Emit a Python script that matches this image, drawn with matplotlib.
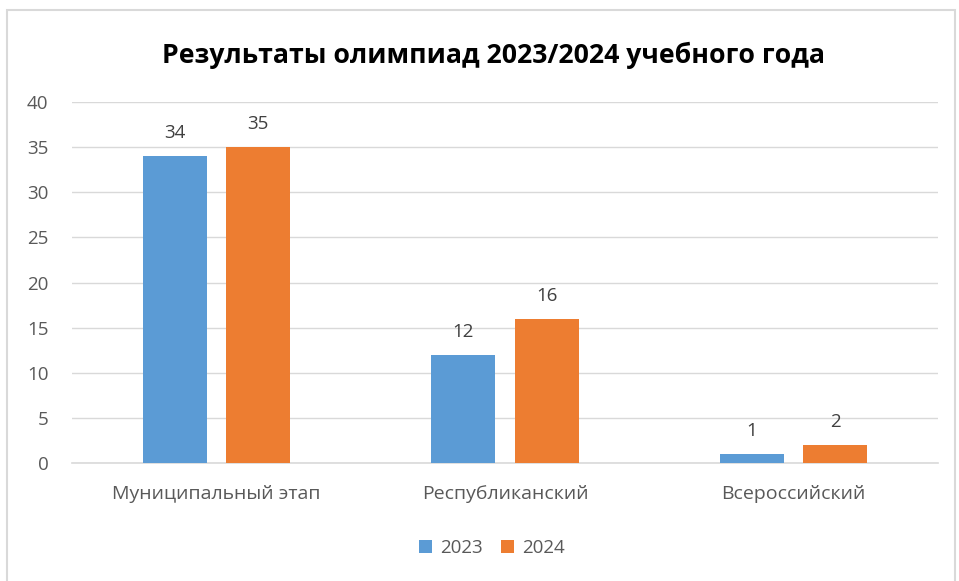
import matplotlib
matplotlib.use("Agg")
import matplotlib.pyplot as plt
from matplotlib.patches import Rectangle
import numpy as np

categories = ["Муниципальный этап", "Республиканский", "Всероссийский"]
series_names = ["2023", "2024"]
values_2023 = [34, 12, 1]
values_2024 = [35, 16, 2]
yticks = [0, 5, 10, 15, 20, 25, 30, 35, 40]
title = "Результаты олимпиад 2023/2024 учебного года"

blue = "#5B9BD5"
orange = "#ED7D31"
grey_text = "#595959"
grid_col = "#D9D9D9"

plt.rcParams['font.family'] = ['Open Sans', 'DejaVu Sans']

W, H = 959, 581
fig = plt.figure(figsize=(W / 100, H / 100), dpi=100)

# outer frame
fig.patches.append(Rectangle((7 / W, -0.1), (955 - 7) / W, 1.1 - 10 / H,
                             transform=fig.transFigure, fill=False,
                             edgecolor="#D9D9D9", linewidth=1.5))

left, right = 72 / W, 938 / W
bottom, top = 1 - 463 / H, 1 - 102 / H
ax = fig.add_axes([left, bottom, right - left, top - bottom])

x = np.arange(len(categories))
off = 0.144
bw = 0.222
b1 = ax.bar(x - off, values_2023, bw, color=blue, label=series_names[0], zorder=3)
b2 = ax.bar(x + off, values_2024, bw, color=orange, label=series_names[1], zorder=3)

for bars, vals in ((b1, values_2023), (b2, values_2024)):
    for r, v in zip(bars, vals):
        ax.annotate(str(v), (r.get_x() + r.get_width() / 2, v),
                    xytext=(0, 10), textcoords="offset points",
                    ha="center", va="bottom", fontsize=13.5, color="#404040")

ax.set_xlim(-0.5, 2.5)
ax.set_ylim(0, 40)
ax.set_yticks(yticks)
ax.set_yticklabels([str(t) for t in yticks], fontsize=13.5, color=grey_text)
ax.set_xticks(x)
ax.set_xticklabels(categories, fontsize=14, color=grey_text)
ax.tick_params(axis="both", length=0)
ax.tick_params(axis="y", pad=17)
ax.tick_params(axis="x", pad=16)
for lab in ax.get_yticklabels():
    lab.set_horizontalalignment("right")
ax.grid(axis="y", color=grid_col, linewidth=1, zorder=0)
for s in ["top", "right", "left"]:
    ax.spines[s].set_visible(False)
ax.spines["bottom"].set_color(grid_col)
ax.spines["bottom"].set_linewidth(1.2)

fig.text(493 / W, 1 - 55 / H, title, ha="center", va="center",
         fontsize=19.2, fontweight="bold", color="black")

fig.legend(handles=[b1, b2], labels=series_names, loc="center",
           bbox_to_anchor=(492 / W, 1 - 548 / H), ncol=2, frameon=False,
           fontsize=13.5, handlelength=0.7, handleheight=0.7,
           handletextpad=0.4, columnspacing=1.0, labelcolor=grey_text)

fig.savefig("out.png", dpi=100)
